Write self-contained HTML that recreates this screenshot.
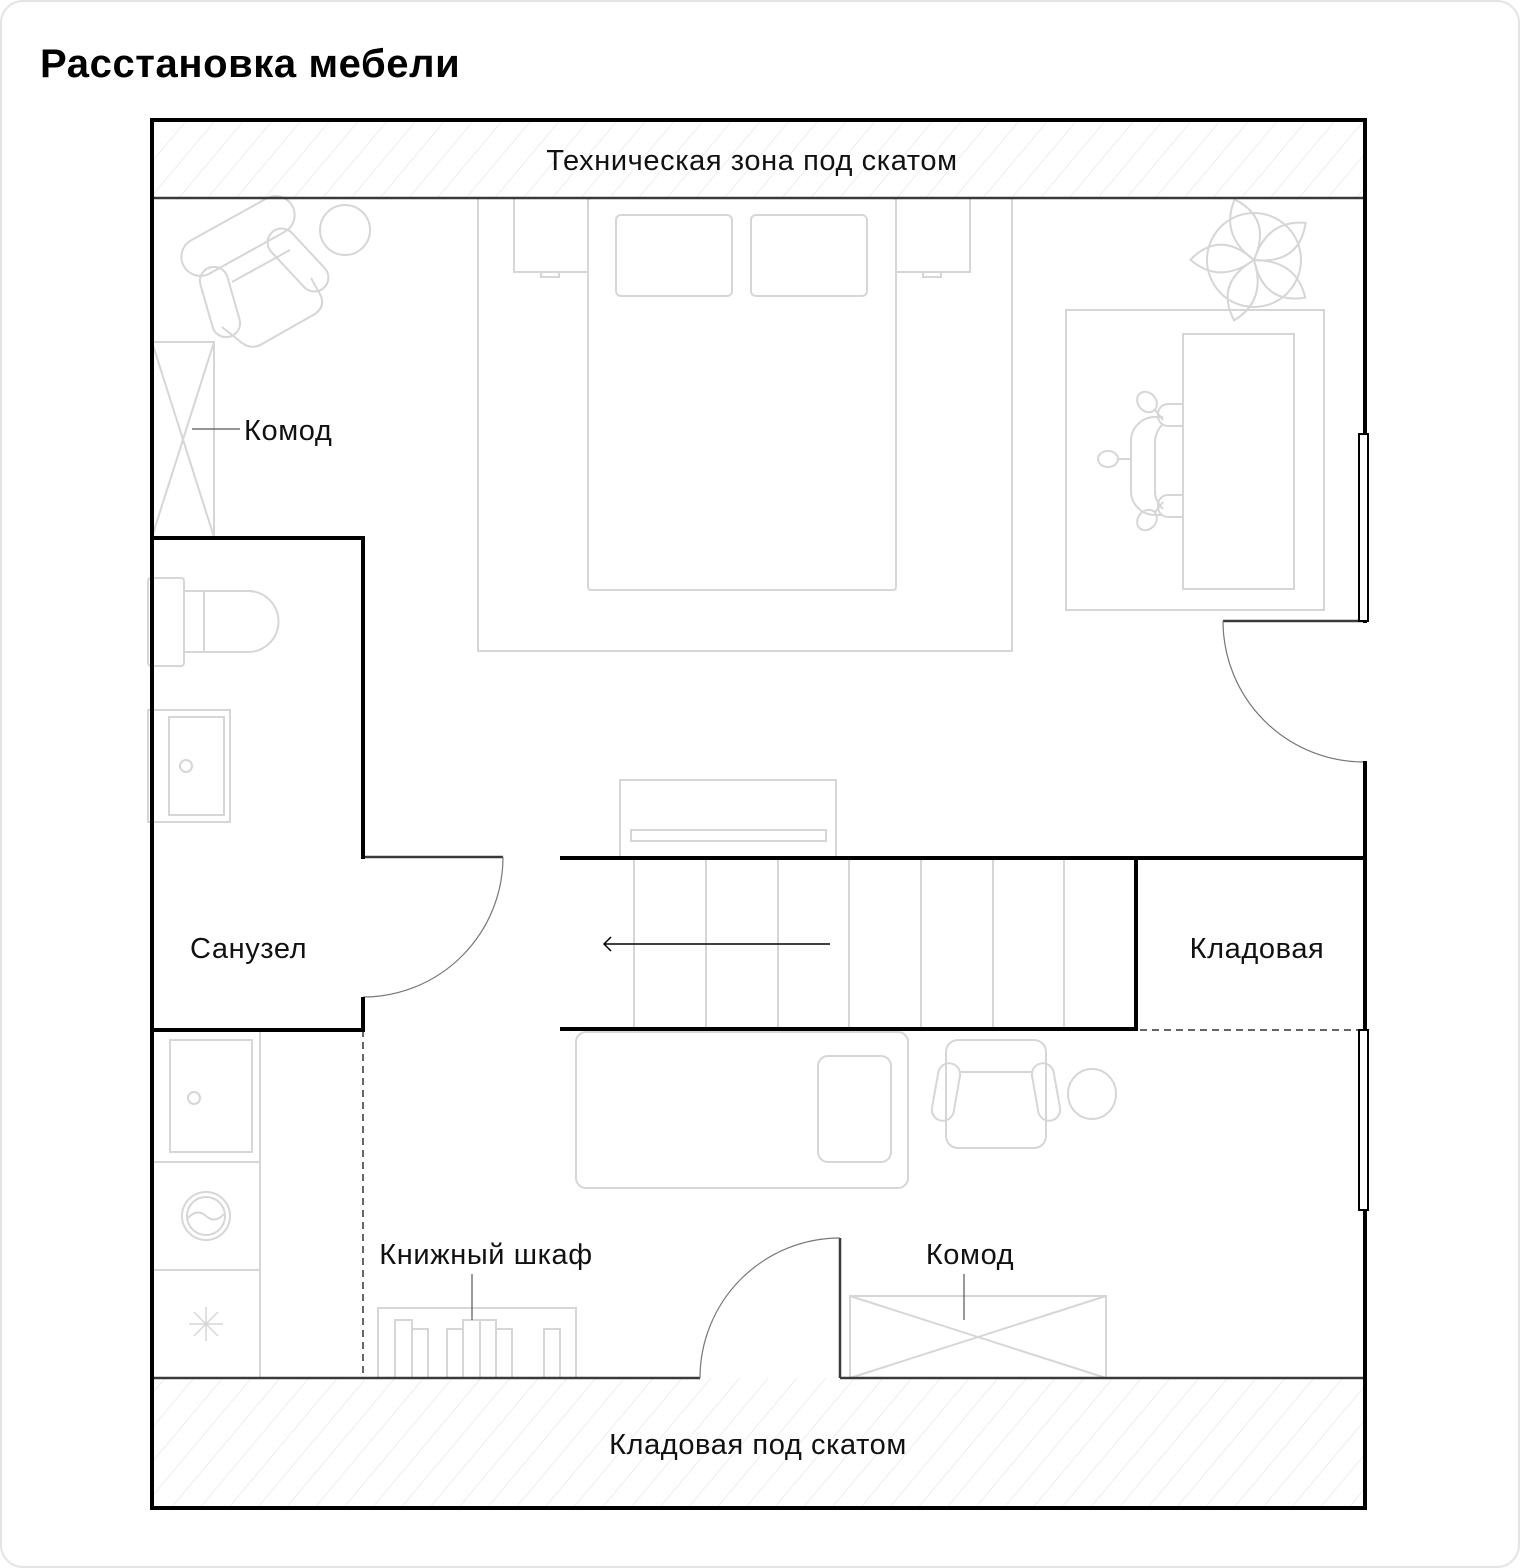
<!DOCTYPE html>
<html><head><meta charset="utf-8"><style>
html,body{margin:0;padding:0;background:#fff}
body{width:1520px;height:1568px;overflow:hidden}
svg{display:block}
text{font-family:"Liberation Sans",sans-serif}
</style></head><body>
<svg width="1520" height="1568" viewBox="0 0 1520 1568" xmlns="http://www.w3.org/2000/svg">
<defs>
<pattern id="h" width="22" height="22" patternUnits="userSpaceOnUse" patternTransform="rotate(40)">
<line x1="0" y1="0" x2="0" y2="22" stroke="#e2e2e2" stroke-width="1.2"/>
</pattern>
</defs>
<rect x="1" y="1" width="1518" height="1566" rx="22" fill="#fff" stroke="#e4e4e4" stroke-width="2"/>
<text x="40" y="77" font-size="40" font-weight="bold" fill="#000" letter-spacing="0.6">Расстановка мебели</text>

<rect x="152" y="120" width="1213" height="78" fill="url(#h)"/>
<rect x="152" y="1378" width="1213" height="130" fill="url(#h)"/>

<g fill="none" stroke="#d6d6d6" stroke-width="2">
<!-- armchair top-left -->
<path d="M222 327 L242 343 Q252 350 262 344 L315 314 Q325 307 321 296 L311 278"/>
<rect x="-62" y="-19" width="124" height="38" rx="19" transform="translate(238,236) rotate(-29)"/>
<rect x="-36" y="-14" width="72" height="28" rx="14" transform="translate(220,302) rotate(74)"/>
<rect x="-38" y="-14" width="76" height="28" rx="14" transform="translate(298,260) rotate(47)"/>
<line x1="232" y1="282" x2="290" y2="250"/>
<circle cx="345" cy="230" r="25"/>
<!-- komod left -->
<rect x="152" y="342" width="62" height="195"/>
<line x1="152" y1="342" x2="214" y2="537"/><line x1="214" y1="342" x2="152" y2="537"/>
<!-- bed -->
<rect x="478" y="198" width="534" height="453"/>
<rect x="588" y="198" width="308" height="392" rx="3"/>
<rect x="616" y="215" width="116" height="81" rx="5"/>
<rect x="751" y="215" width="116" height="81" rx="5"/>
<rect x="514" y="198" width="74" height="74"/><rect x="541" y="272" width="18" height="5"/>
<rect x="896" y="198" width="74" height="74"/><rect x="923" y="272" width="18" height="5"/>
<!-- desk area -->
<rect x="1066" y="310" width="258" height="300"/>
<rect x="1183" y="334" width="111" height="255"/>
<path d="M1183 404 H1168 a10 10 0 0 0 -10 10 v2 a10 10 0 0 0 10 10 H1183"/>
<path d="M1183 495 H1168 a10 10 0 0 0 -10 10 v2 a10 10 0 0 0 10 10 H1183"/>
<path d="M1163 417 H1155 a24 24 0 0 0 -24 24 v50 a24 24 0 0 0 24 24 H1163"/>
<path d="M1163 424 a25 25 0 0 0 -8 20 v45 a25 25 0 0 0 8 20"/>
<ellipse cx="1147" cy="402" rx="9" ry="11" transform="rotate(-40 1147 402)"/>
<ellipse cx="1147" cy="520" rx="9" ry="11" transform="rotate(40 1147 520)"/>
<ellipse cx="1108" cy="459" rx="10" ry="8"/>
<line x1="1118" y1="459" x2="1131" y2="459"/>
<line x1="1155" y1="410" x2="1163" y2="420"/><line x1="1155" y1="512" x2="1163" y2="502"/>
<!-- plant -->
<circle cx="1254" cy="260" r="47"/>
<g transform="translate(1254,260)">
<path d="M0 0 Q-32 -28 -14 -62 Q22 -40 0 0Z" transform="rotate(-5)"/>
<path d="M0 0 Q-32 -28 -14 -62 Q22 -40 0 0Z" transform="rotate(67)"/>
<path d="M0 0 Q-32 -28 -14 -62 Q22 -40 0 0Z" transform="rotate(139)"/>
<path d="M0 0 Q-32 -28 -14 -62 Q22 -40 0 0Z" transform="rotate(211)"/>
<path d="M0 0 Q-32 -28 -14 -62 Q22 -40 0 0Z" transform="rotate(283)"/>
</g>
<!-- toilet -->
<rect x="148" y="578" width="36" height="88" rx="3"/>
<path d="M184 591 H248 a30 30 0 0 1 0 61 H184"/>
<line x1="204" y1="591" x2="204" y2="652"/>
<!-- sink -->
<rect x="148" y="710" width="82" height="112"/>
<rect x="169" y="717" width="55" height="98"/>
<circle cx="186" cy="766" r="6"/>
<!-- tv/console -->
<rect x="620" y="780" width="216" height="77"/>
<rect x="631" y="830" width="195" height="11"/>
<!-- stairs -->
<line x1="634" y1="857" x2="634" y2="1030"/><line x1="706" y1="857" x2="706" y2="1030"/>
<line x1="778" y1="857" x2="778" y2="1030"/><line x1="849" y1="857" x2="849" y2="1030"/>
<line x1="921" y1="857" x2="921" y2="1030"/><line x1="993" y1="857" x2="993" y2="1030"/>
<line x1="1064" y1="857" x2="1064" y2="1030"/>
<!-- sofa / rug -->
<rect x="576" y="1032" width="332" height="156" rx="10"/>
<rect x="818" y="1056" width="73" height="106" rx="10"/>
<!-- armchair 2 -->
<rect x="946" y="1040" width="100" height="108" rx="12"/>
<line x1="960" y1="1072" x2="1032" y2="1072"/>
<rect x="935" y="1063" width="22" height="58" rx="11" transform="rotate(10 946 1092)"/>
<rect x="1035" y="1063" width="22" height="58" rx="11" transform="rotate(-10 1046 1092)"/>
<ellipse cx="1092" cy="1094" rx="24" ry="25"/>
<!-- kitchen -->
<line x1="260" y1="1032" x2="260" y2="1378"/>
<line x1="152" y1="1162" x2="260" y2="1162"/><line x1="152" y1="1270" x2="260" y2="1270"/>
<rect x="170" y="1040" width="82" height="112"/>
<circle cx="194" cy="1098" r="6"/>
<circle cx="206" cy="1216" r="24"/><circle cx="206" cy="1216" r="19"/>
<path d="M188 1218 q9 -10 18 -2 t18 -2"/>
<g stroke-width="1.5"><line x1="206" y1="1307" x2="206" y2="1341"/><line x1="189" y1="1324" x2="223" y2="1324"/><line x1="194" y1="1312" x2="218" y2="1336"/><line x1="218" y1="1312" x2="194" y2="1336"/></g>
<!-- bookcase -->
<rect x="378" y="1308" width="198" height="70"/>
<rect x="395" y="1320" width="17" height="58"/><rect x="412" y="1329" width="16" height="49"/>
<rect x="447" y="1329" width="16" height="49"/><rect x="463" y="1320" width="17" height="58"/>
<rect x="480" y="1320" width="16" height="58"/><rect x="496" y="1329" width="16" height="49"/>
<rect x="544" y="1329" width="16" height="49"/>
<!-- komod bottom -->
<rect x="850" y="1296" width="256" height="82"/>
<line x1="850" y1="1296" x2="1106" y2="1378"/><line x1="1106" y1="1296" x2="850" y2="1378"/>
</g>

<!-- leaders -->
<g stroke="#555" stroke-width="1.2">
<line x1="192" y1="429" x2="240" y2="429"/>
<line x1="472" y1="1274" x2="472" y2="1320"/>
<line x1="964" y1="1274" x2="964" y2="1320"/>
</g>

<!-- thin separator lines -->
<g stroke="#3a3a3a" stroke-width="2.5" fill="none">
<line x1="152" y1="198" x2="1365" y2="198"/>
<line x1="152" y1="1378" x2="700" y2="1378"/>
<line x1="840" y1="1378" x2="1365" y2="1378"/>
<line x1="840" y1="1238" x2="840" y2="1378"/>
<line x1="363" y1="857" x2="503" y2="857"/>
<line x1="1223" y1="621" x2="1365" y2="621"/>
</g>
<g stroke="#777" stroke-width="1.2" fill="none">
<path d="M503 857 A140 140 0 0 1 363 997"/>
<path d="M1223 621 A141 141 0 0 0 1364 762"/>
<path d="M700 1378 A140 140 0 0 1 840 1238"/>
</g>
<g stroke="#666" stroke-width="2" stroke-dasharray="7 5" fill="none">
<line x1="363" y1="1030" x2="363" y2="1378"/>
<line x1="1140" y1="1030" x2="1362" y2="1030"/>
</g>

<!-- thick walls -->
<g stroke="#000" stroke-width="4" fill="none">
<rect x="152" y="120" width="1213" height="1388"/>
<polyline points="152,538 363,538 363,859"/>
<polyline points="363,997 363,1030 152,1030"/>
<line x1="560" y1="858" x2="1365" y2="858"/>
<polyline points="560,1029 1136,1029 1136,858"/>
</g>
<!-- windows -->
<rect x="1359" y="434" width="9" height="187" fill="#fff" stroke="#000" stroke-width="2"/>
<rect x="1359" y="1030" width="9" height="180" fill="#fff" stroke="#000" stroke-width="2"/>
<rect x="1362" y="623" width="6" height="138" fill="#fff"/>
<line x1="1365" y1="762" x2="1365" y2="858" stroke="#000" stroke-width="4"/>

<!-- arrow -->
<g stroke="#000" stroke-width="1.5" fill="none">
<line x1="604" y1="944" x2="830" y2="944"/>
<polyline points="611,937 604,944 611,951"/>
</g>

<g font-size="29" fill="#111" letter-spacing="0.6">
<text x="752" y="170" text-anchor="middle">Техническая зона под скатом</text>
<text x="244" y="440">Комод</text>
<text x="190" y="958">Санузел</text>
<text x="1257" y="958" text-anchor="middle">Кладовая</text>
<text x="486" y="1264" text-anchor="middle">Книжный шкаф</text>
<text x="970" y="1264" text-anchor="middle">Комод</text>
<text x="758" y="1454" text-anchor="middle">Кладовая под скатом</text>
</g>
</svg>
</body></html>
